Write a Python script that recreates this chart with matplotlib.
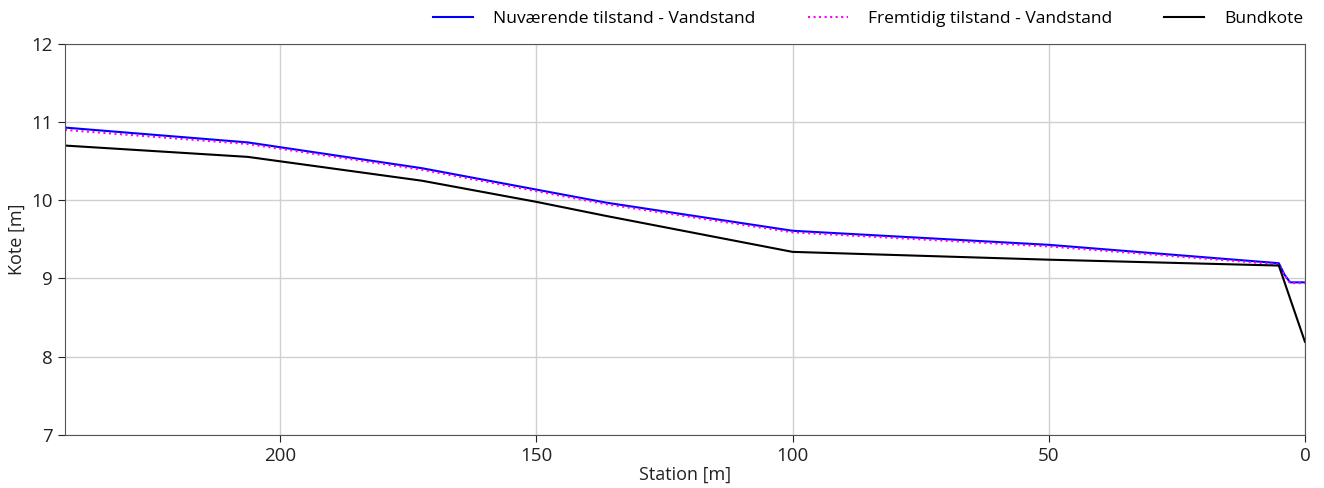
import matplotlib.pyplot as plt

plt.rcParams['font.family'] = ['Open Sans', 'DejaVu Sans']

# Station [m] and levels [m]
station_ws = [242, 206.3, 172.3, 136.4, 100, 50, 5.1, 4.0, 2.9, 0]
ws_now = [10.93, 10.74, 10.41, 9.97, 9.61, 9.43, 9.195, 9.05, 8.95, 8.95]
ws_future = [10.90, 10.72, 10.39, 9.95, 9.59, 9.41, 9.18, 9.04, 8.94, 8.94]

station_bed = [242, 206.3, 172.3, 150, 136.4, 100, 50, 5.1, 0]
bed = [10.70, 10.555, 10.25, 9.98, 9.80, 9.34, 9.24, 9.165, 8.19]

fig = plt.figure(figsize=(13.24, 4.88), dpi=100)
ax = fig.add_axes([0.049, 0.109, 0.9366, 0.801])

ax.plot(station_ws, ws_now, color='#0000ff', lw=1.5, label='Nuværende tilstand - Vandstand')
ax.plot(station_ws, ws_future, color='#ff00ff', lw=1.5, ls=':', label='Fremtidig tilstand - Vandstand')
ax.plot(station_bed, bed, color='black', lw=1.5, label='Bundkote')

ax.set_xlim(242, 0)
ax.set_ylim(7, 12)
ax.set_xticks([200, 150, 100, 50, 0])
ax.set_yticks([7, 8, 9, 10, 11, 12])
ax.grid(True, color='#d0d0d0', lw=1)
ax.set_axisbelow(True)
for s in ax.spines.values():
    s.set_color('#555555')
ax.tick_params(labelsize=13.5, colors='#222222', length=5)
ax.set_xlabel('Station [m]', fontsize=13, color='#222222', labelpad=1)
ax.set_ylabel('Kote [m]', fontsize=13, color='#222222', labelpad=4)

fig.legend(loc='upper right', bbox_to_anchor=(0.996, 1.01), ncol=3, frameon=False,
           fontsize=12.5, columnspacing=3.0, handlelength=2.3, handletextpad=1.15)

fig.savefig('out.png', dpi=100)
